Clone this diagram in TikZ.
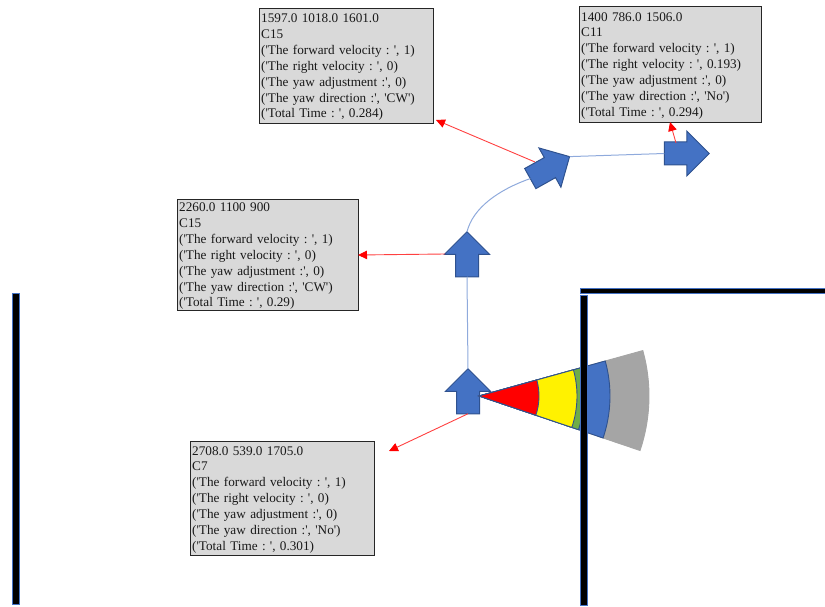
\documentclass[tikz,border=0pt]{standalone}
\usepackage{fontspec}
\setmainfont{Liberation Serif}[Ligatures=TeXOff]
\usetikzlibrary{shapes.arrows,arrows.meta}
\definecolor{arrowfill}{HTML}{4472C4}
\definecolor{arrowedge}{HTML}{2F528F}
\definecolor{boxfill}{HTML}{D9D9D9}
\definecolor{pathblue}{HTML}{8FAADC}
\definecolor{tracered}{HTML}{FF4040}
\definecolor{fangreen}{HTML}{70AD47}
\definecolor{fangray}{HTML}{A5A5A5}
\newcommand{\qk}{\kern-2.5pt}
\tikzset{
  infobox/.style={draw=black!85,line width=1.4pt,fill=boxfill,anchor=north west,align=left,
    inner xsep=1.5pt,inner ysep=0pt,font=\fontsize{13.2}{15.9}\selectfont,text=black!90,
    execute at begin node={\rule{0pt}{11pt}}},
  pose/.style={draw=arrowedge,line width=1pt,fill=arrowfill,single arrow,inner xsep=0pt,inner ysep=11pt,outer sep=0pt,
    minimum height=45pt,minimum width=44pt,single arrow head extend=11pt,single arrow tip angle=90},
  pathline/.style={draw=pathblue,line width=1pt},
  redline/.style={draw=tracered,line width=0.9pt,-{Triangle[length=9pt,width=8.5pt,color=red]}},
  wall/.style={fill=black,draw=arrowfill,line width=1pt},
  fan/.style={line width=0.9pt,draw=arrowedge}
}
\begin{document}
\begin{tikzpicture}[x=1pt,y=-1pt]
\useasboundingbox (0,0) rectangle (825,607);
\coordinate (fan) at (479,396);
% poses
\node[pose,rotate=90] (p1) at (468,397) {};
\node[pose,rotate=90] (p2) at (467,260) {};
\node[pose,rotate=29.2] (p3) at (544.9,170.4) {};
\node[pose] (p4) at (681,153.5) {};
% path
\draw[pathline] (p1.tip) -- (p2.tail);
\draw[pathline] (p2.tip) .. controls (473,208) and (498,190) .. (p3.tail);
\draw[pathline] (p3.tip) -- (p4.tail);
% sensor fan
\foreach \r/\c/\e in {170/fangray/fangray,131/arrowfill/arrowedge,105/fangreen/arrowedge,98/yellow/arrowedge,60/red/arrowedge}{
  \filldraw[fan,fill=\c,draw=\e] (fan) -- ++(18.7:\r) arc[start angle=18.7,end angle=-15.5,radius=\r] -- cycle;
}
% walls
\path[wall] (12.5,293.5) rectangle (19.5,604);
\path[wall] (580.5,295.5) rectangle (587.5,605);
\path[wall] (580.5,288) rectangle (826,293.5);
% info boxes
\node[infobox,text width=171pt,minimum height=115pt] (bA) at (259,8) {1597.0 1018.0 1601.0\\C15\\('The forward velocity : \qk', 1)\\('The right velocity : \qk', 0)\\('The yaw adjustment :', 0)\\('The yaw direction :', 'CW')\\('Total Time : \qk', 0.284)};
\node[infobox,text width=179pt,minimum height=116pt] (bB) at (579,6) {1400 786.0 1506.0\\C11\\('The forward velocity : \qk', 1)\\('The right velocity : \qk', 0.193)\\('The yaw adjustment :', 0)\\('The yaw direction :', 'No')\\('Total Time : \qk', 0.294)};
\node[infobox,text width=178pt,minimum height=111pt] (bC) at (177,199) {2260.0 1100 900\\C15\\('The forward velocity : \qk', 1)\\('The right velocity : \qk', 0)\\('The yaw adjustment :', 0)\\('The yaw direction :', 'CW')\\('Total Time : \qk', 0.29)};
\node[infobox,text width=181pt,minimum height=114pt] (bD) at (190,441) {2708.0 539.0 1705.0\\C7\\('The forward velocity : \qk', 1)\\('The right velocity : \qk', 0)\\('The yaw adjustment :', 0)\\('The yaw direction :', 'No')\\('Total Time : \qk', 0.301)};
% red traces
\coordinate (tA) at (436,120);
\coordinate (tB) at (670,122);
\coordinate (tC) at (358,255);
\coordinate (tD) at (389,451);
\coordinate (sA) at (535,162);
\coordinate (sB) at (676,143);
\coordinate (sC) at (445,254);
\draw[redline] (sA) -- (tA);
\draw[redline] (sB) -- (tB);
\draw[redline] (sC) -- (tC);
\draw[redline] (p1.tail) -- (tD);
\end{tikzpicture}
\end{document}
